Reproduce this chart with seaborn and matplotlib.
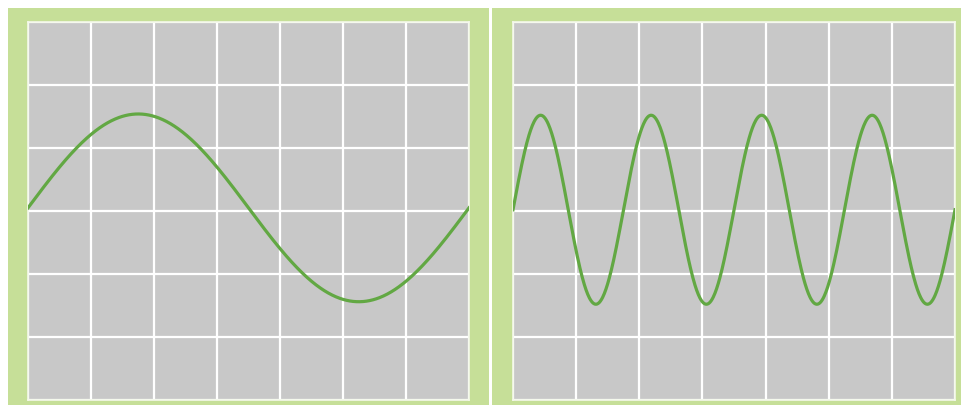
import numpy as np
import pandas as pd
import matplotlib
matplotlib.use("Agg")
import matplotlib.pyplot as plt
import seaborn as sns

# Chart parameters
panel_names = ["low frequency", "high frequency"]
cycles = [1, 4]            # full sine periods across each screen
amplitudes = [1.49, 1.50]  # peak height in grid divisions
offsets = [0.05, 0.02]     # vertical shift of the wave centre, grid divisions
n_cols = 7                 # horizontal grid divisions
n_rows = 6                 # vertical grid divisions

W, H = 961, 405
fig = plt.figure(figsize=(W / 100, H / 100), dpi=100)
fig.patch.set_facecolor("white")

frame_color = "#c6df98"
screen_color = "#c8c8c8"
line_color = "#62a843"

# green frames (pixel boxes: x0, y0_top, x1, y1_bottom)
frames = [(8, 8, 489, 405), (492, 8, 961, 405)]
screens = [(28, 22, 469, 400), (513, 22, 955, 400)]

for (x0, y0, x1, y1) in frames:
    fax = fig.add_axes([x0 / W, 1 - y1 / H, (x1 - x0) / W, (y1 - y0) / H], zorder=0)
    fax.set_facecolor(frame_color)
    fax.set_xticks([])
    fax.set_yticks([])
    for s in fax.spines.values():
        s.set_visible(False)

for i, (x0, y0, x1, y1) in enumerate(screens):
    ax = fig.add_axes([x0 / W, 1 - y1 / H, (x1 - x0) / W, (y1 - y0) / H], zorder=2)
    ax.set_facecolor(screen_color)
    x = np.linspace(0, n_cols, 800)
    y = offsets[i] + amplitudes[i] * np.sin(2 * np.pi * cycles[i] * x / n_cols)
    df = pd.DataFrame({"x": x, "y": y})
    ax.set_xlim(0, n_cols)
    ax.set_ylim(-n_rows / 2, n_rows / 2)
    ax.set_xticks(np.arange(0, n_cols + 1))
    ax.set_yticks(np.arange(-n_rows / 2, n_rows / 2 + 1))
    ax.grid(True, color="white", linewidth=1.6)
    ax.set_axisbelow(True)
    sns.lineplot(data=df, x="x", y="y", ax=ax, color=line_color, linewidth=2.3,
                 zorder=3)
    ax.tick_params(length=0, labelbottom=False, labelleft=False)
    ax.set_xlabel("")
    ax.set_ylabel("")
    for s in ax.spines.values():
        s.set_color("#f4f8ea")
        s.set_linewidth(1.2)

fig.savefig("out.png", dpi=100, facecolor=fig.get_facecolor())
